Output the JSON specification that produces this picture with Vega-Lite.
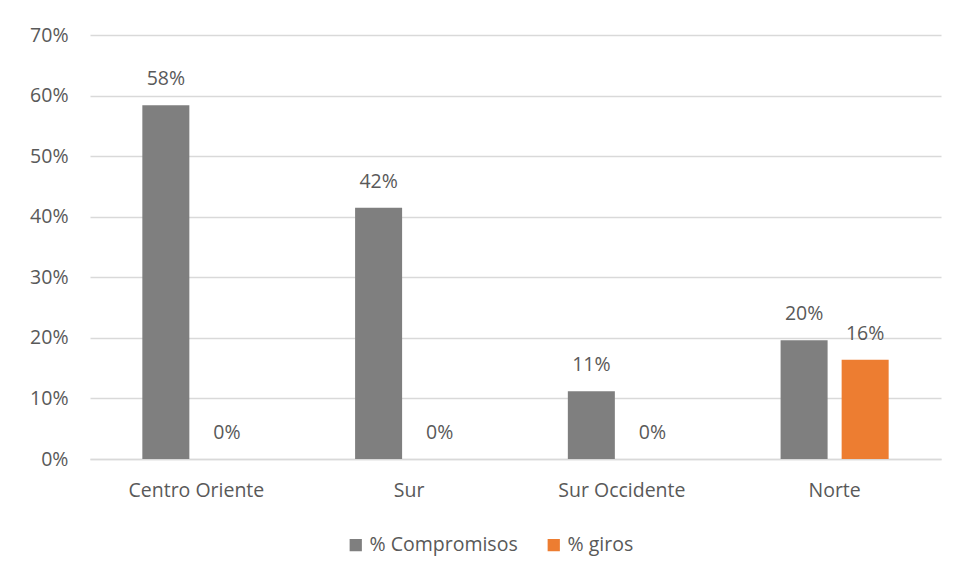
{
  "$schema": "https://vega.github.io/schema/vega-lite/v6.json",
  "width": 851,
  "height": 424,
  "autosize": {"type": "none"},
  "padding": {"left": 90, "top": 35, "right": 16, "bottom": 119},
  "background": "white",
  "data": {
    "values": [
      {"region": "Centro Oriente", "serie": "% Compromisos", "value": 0.584},
      {"region": "Centro Oriente", "serie": "% giros", "value": 0},
      {"region": "Sur", "serie": "% Compromisos", "value": 0.415},
      {"region": "Sur", "serie": "% giros", "value": 0},
      {"region": "Sur Occidente", "serie": "% Compromisos", "value": 0.112},
      {"region": "Sur Occidente", "serie": "% giros", "value": 0},
      {"region": "Norte", "serie": "% Compromisos", "value": 0.196},
      {"region": "Norte", "serie": "% giros", "value": 0.164}
    ]
  },
  "config": {
    "view": {"stroke": null},
    "font": "Open Sans",
    "axis": {"labelFont": "Open Sans", "labelColor": "#595959", "labelFontSize": 19.5, "ticks": false, "title": null}
  },
  "encoding": {
    "x": {
      "field": "region", "type": "nominal", "sort": null,
      "scale": {"paddingInner": 0.492, "paddingOuter": 0.246},
      "axis": {"labelAngle": 0, "domainColor": "#d9d9d9", "domainWidth": 1.5, "labelPadding": 22, "grid": false}
    },
    "xOffset": {"field": "serie", "type": "nominal", "scale": {"paddingInner": 0.23, "paddingOuter": 0}},
    "y": {
      "field": "value", "type": "quantitative",
      "scale": {"domain": [0, 0.7]},
      "axis": {"format": ".0%", "values": [0, 0.1, 0.2, 0.3, 0.4, 0.5, 0.6, 0.7], "domain": false, "gridColor": "#d9d9d9", "gridWidth": 1.5, "labelPadding": 22}
    }
  },
  "layer": [
    {
      "mark": {"type": "bar"},
      "encoding": {
        "color": {
          "field": "serie", "type": "nominal",
          "scale": {"domain": ["% Compromisos", "% giros"], "range": ["#7f7f7f", "#ed7d31"]},
          "legend": {
            "title": null, "orient": "none", "direction": "horizontal",
            "legendX": 256, "legendY": 500,
            "symbolType": "square", "symbolSize": 150, "symbolStrokeWidth": 0,
            "labelFont": "Open Sans", "labelFontSize": 19.5, "labelColor": "#595959",
            "columnPadding": 26, "symbolOffset": 0, "labelOffset": 4
          }
        }
      }
    },
    {
      "mark": {"type": "text", "baseline": "middle", "dy": -26, "font": "Open Sans", "fontSize": 19.5, "color": "#595959"},
      "encoding": {
        "text": {"field": "value", "type": "quantitative", "format": ".0%"}
      }
    }
  ]
}
